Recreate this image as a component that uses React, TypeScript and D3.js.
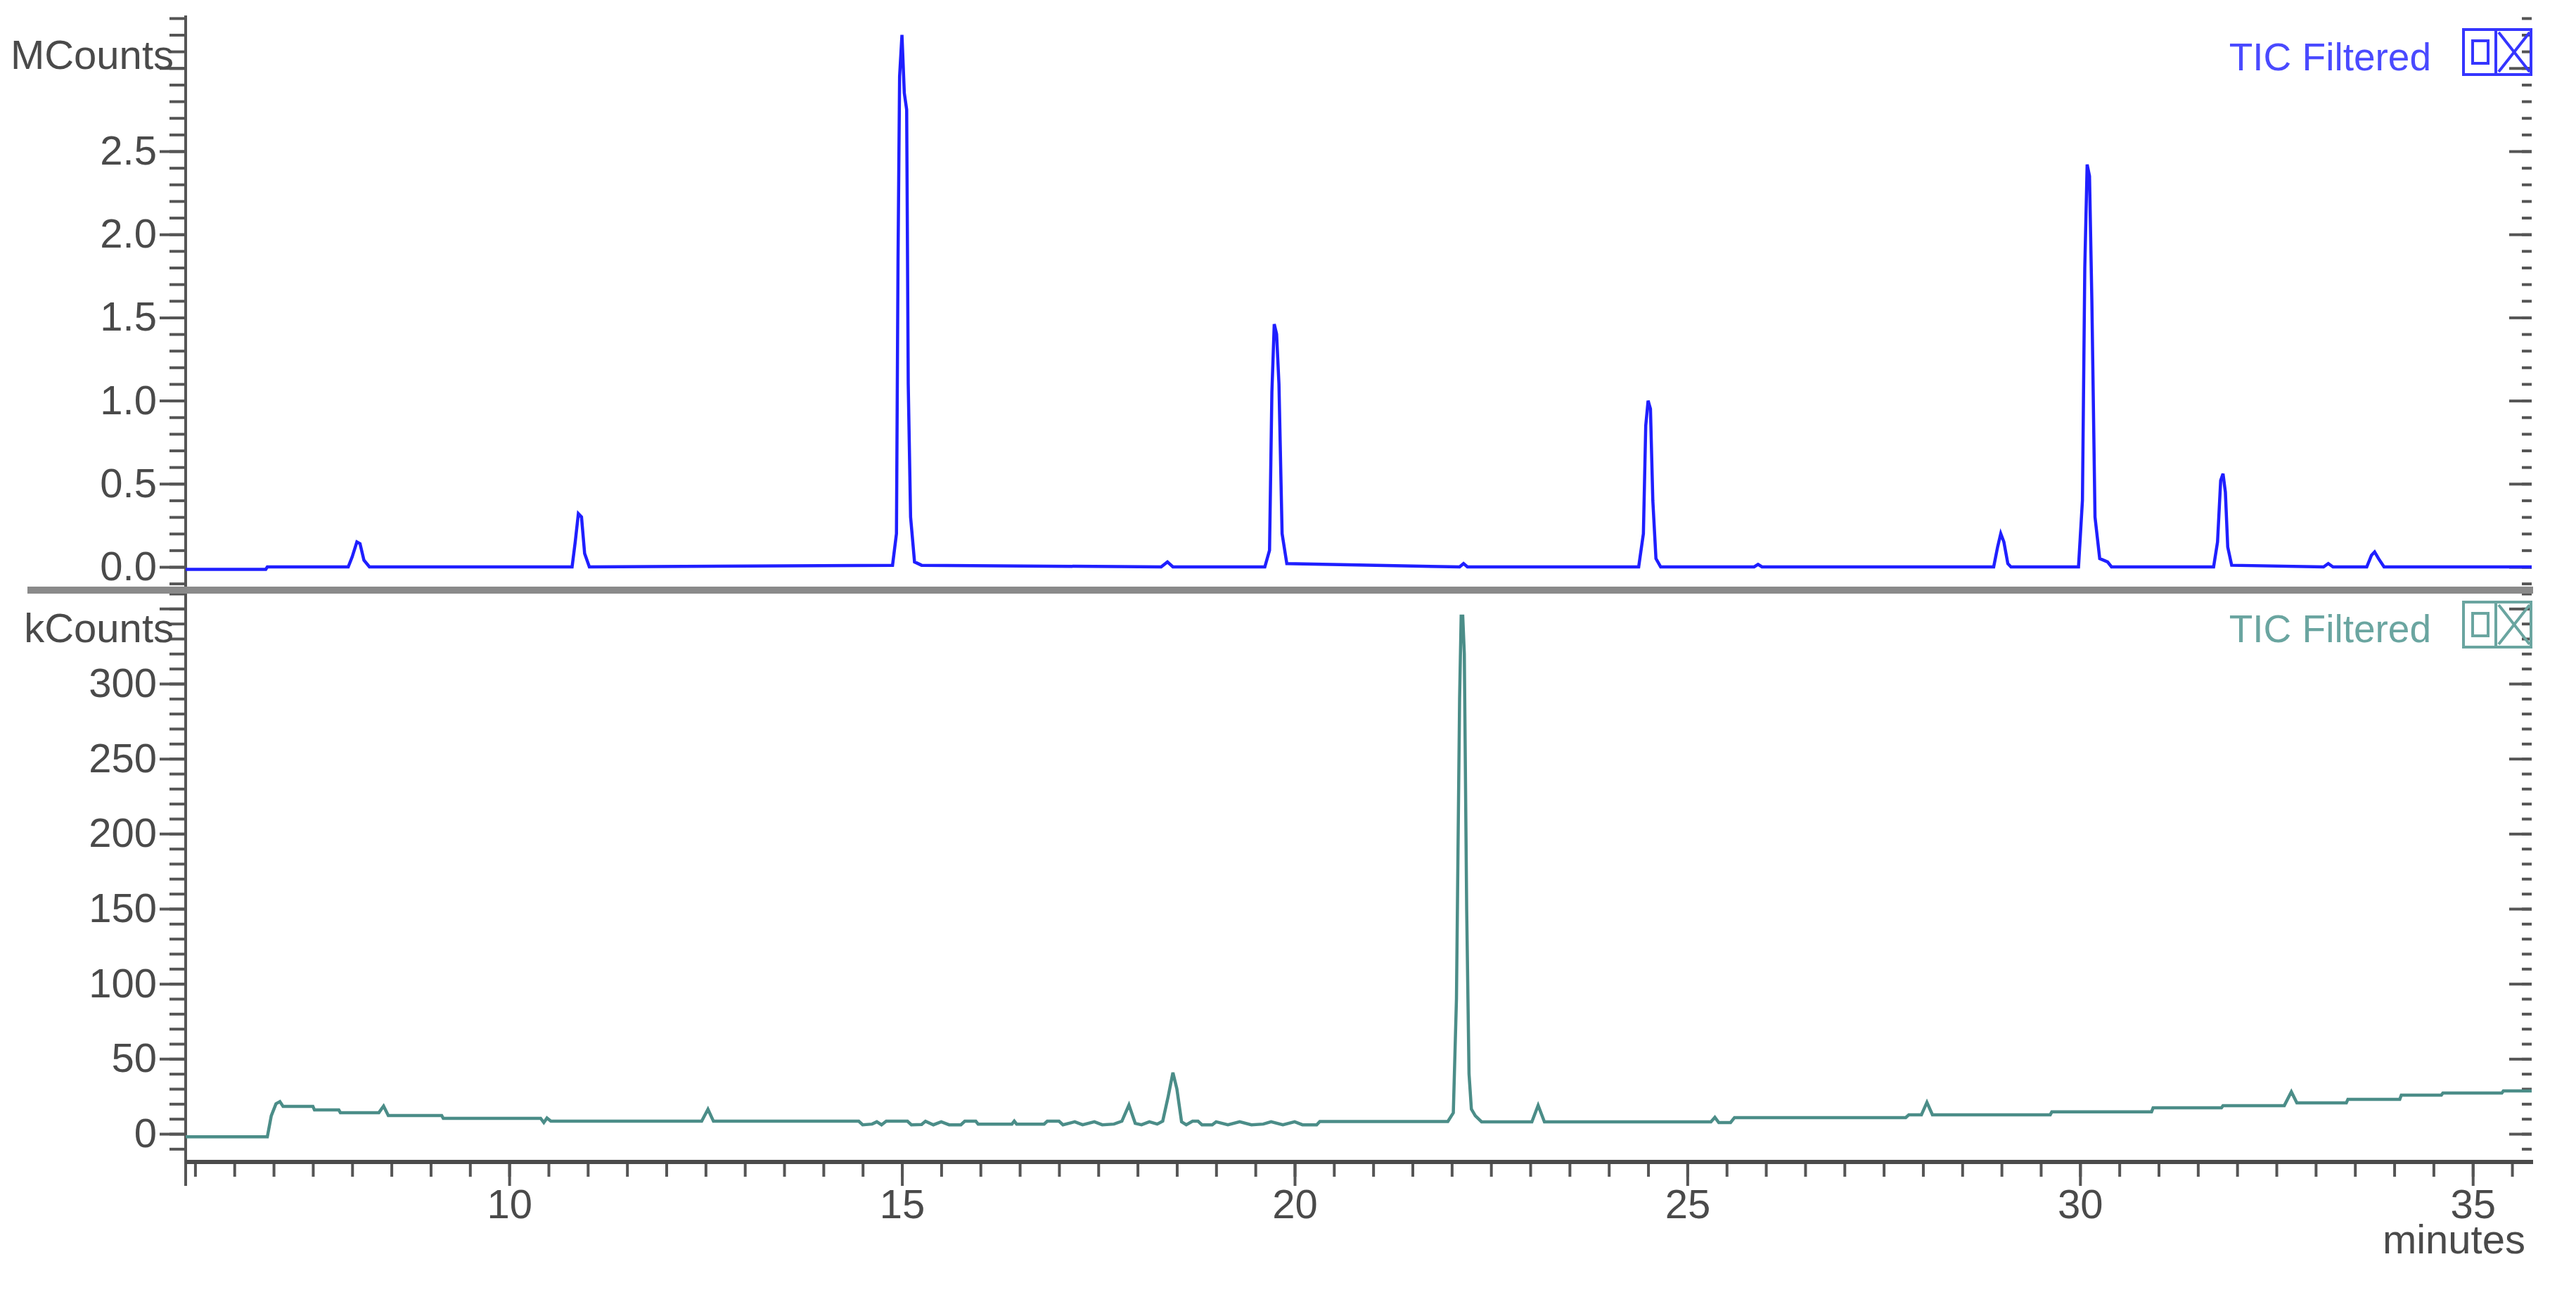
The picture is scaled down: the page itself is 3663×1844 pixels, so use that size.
import React, { useEffect, useRef } from "react";
import * as d3 from "d3";

// upper trace: [retention time (min), MCounts]
const topTrace: [number, number][] = [
  [5.88, -0.015], [6.9, -0.015], [6.92, 0], [7.95, 0],
  [8.0, 0.06], [8.06, 0.15], [8.1, 0.14], [8.15, 0.04], [8.22, 0],
  [10.8, 0], [10.84, 0.15], [10.88, 0.32], [10.92, 0.3], [10.96, 0.08], [11.02, 0],
  [14.88, 0.01], [14.93, 0.2], [14.95, 1.85], [14.97, 2.95], [15.0, 3.2], [15.03, 2.85],
  [15.06, 2.75], [15.08, 1.1], [15.11, 0.3], [15.16, 0.03], [15.25, 0.01],
  [18.3, 0], [18.38, 0.03], [18.45, 0],
  [19.62, 0], [19.68, 0.1], [19.71, 1.05], [19.74, 1.46], [19.77, 1.4], [19.8, 1.1],
  [19.84, 0.2], [19.9, 0.02],
  [22.1, 0], [22.15, 0.02], [22.2, 0],
  [24.38, 0], [24.44, 0.2], [24.47, 0.85], [24.5, 1.0], [24.53, 0.95], [24.56, 0.4],
  [24.6, 0.05], [24.66, 0],
  [25.85, 0], [25.9, 0.015], [25.95, 0],
  [28.9, 0], [28.95, 0.12], [28.99, 0.2], [29.03, 0.15], [29.08, 0.02], [29.12, 0],
  [29.98, 0], [30.03, 0.4], [30.06, 1.8], [30.09, 2.42], [30.12, 2.35], [30.15, 1.6],
  [30.19, 0.3], [30.25, 0.05], [30.35, 0.03], [30.4, 0],
  [31.7, 0], [31.75, 0.15], [31.79, 0.52], [31.82, 0.56], [31.85, 0.45], [31.88, 0.12],
  [31.93, 0.01],
  [33.1, 0], [33.16, 0.02], [33.22, 0],
  [33.65, 0], [33.71, 0.07], [33.75, 0.09], [33.8, 0.05], [33.87, 0], [35.75, 0],
];

// lower trace: [retention time (min), kCounts]
const bottomTrace: [number, number][] = [
  [5.88, -2], [6.92, -2], [6.97, 12], [7.03, 20], [7.08, 21.5], [7.12, 18.3],
  [7.5, 18.3], [7.52, 15.9], [7.83, 15.9], [7.85, 14.1], [8.34, 14.1], [8.4, 18.5],
  [8.46, 12.2], [9.14, 12.2], [9.16, 10.3], [10.4, 10.3], [10.44, 7.5], [10.48, 10.5],
  [10.53, 8.4], [12.45, 8.4], [12.53, 16.4], [12.6, 8.4],
  [14.45, 8.4], [14.5, 6], [14.62, 6.5], [14.68, 8], [14.74, 6], [14.8, 8.4],
  [15.07, 8.4], [15.12, 6], [15.25, 6.2], [15.3, 8.4], [15.4, 6], [15.5, 8], [15.6, 6],
  [15.75, 6], [15.8, 8.4], [15.94, 8.4], [15.97, 6.5], [16.4, 6.5], [16.43, 8.5],
  [16.46, 6.5], [16.81, 6.5], [16.85, 8.4], [17.0, 8.4], [17.05, 6], [17.2, 8],
  [17.3, 6], [17.45, 8], [17.55, 6], [17.7, 6.5], [17.8, 8.4], [17.89, 19.2],
  [17.97, 7], [18.05, 6], [18.15, 8], [18.25, 6.5], [18.32, 8.4], [18.39, 25],
  [18.45, 40.8], [18.5, 30], [18.56, 8], [18.62, 6], [18.7, 8.4], [18.77, 8.4],
  [18.82, 6], [18.95, 6], [19.0, 8], [19.15, 6], [19.3, 8], [19.45, 6], [19.6, 6.5],
  [19.7, 8], [19.85, 6], [20.0, 8], [20.1, 6], [20.28, 6], [20.32, 8.2],
  [21.95, 8.2], [22.02, 14], [22.06, 90], [22.1, 290], [22.12, 345], [22.14, 345],
  [22.16, 320], [22.19, 150], [22.22, 40], [22.25, 16.5], [22.3, 12], [22.38, 8],
  [23.02, 8], [23.1, 19], [23.18, 8], [25.3, 8], [25.35, 11], [25.4, 7.5],
  [25.55, 7.5], [25.6, 10.8], [27.78, 10.8], [27.82, 12.7], [27.98, 12.7], [28.05, 21],
  [28.12, 12.7], [29.62, 12.7], [29.64, 14.6], [30.91, 14.6], [30.93, 17.3],
  [31.8, 17.3], [31.82, 18.8], [32.6, 18.8], [32.69, 28], [32.76, 20.6], [33.39, 20.6],
  [33.41, 23], [34.07, 23], [34.09, 25.8], [34.6, 25.8], [34.62, 27.2], [35.37, 27.2],
  [35.39, 28.6], [35.75, 28.6],
];

const xMajorTicks = [10, 15, 20, 25, 30, 35];
const topMajorTicks = [0, 0.5, 1, 1.5, 2, 2.5, 3];
const topTickLabels = ["0.0", "0.5", "1.0", "1.5", "2.0", "2.5", ""];
const bottomMajorTicks = [0, 50, 100, 150, 200, 250, 300, 350];
const bottomTickLabels = ["0", "50", "100", "150", "200", "250", "300", ""];
const legendLabel = "TIC Filtered";
const topUnit = "MCounts";
const bottomUnit = "kCounts";
const xUnit = "minutes";

const FONT = "'Liberation Sans', Arial, sans-serif";
const AXIS = "#555";
const TEXT = "#4a4a4a";
const BLUE = "#1f1fff";
const TEAL = "#4b8d88";

export default function App() {
  const ref = useRef<SVGSVGElement>(null);

  useEffect(() => {
    drawChart();
  }, []);

  function drawChart() {
    const svg = d3.select(ref.current);
    svg.selectAll("*").remove();

    const left = 264;
    const right = 3600;
    const xAxisY = 1652;
    const divY = 839;

    const x = d3.scaleLinear().domain([5.88, 35.75]).range([left, right]);
    const yTop = d3.scaleLinear().domain([0, 2.5]).range([806, 215]);
    const yBot = d3.scaleLinear().domain([0, 300]).range([1612, 972]);

    // style helper for axis groups
    const styleAxis = (g, size = 58) => {
      g.select(".domain").remove();
      g.selectAll("line").attr("stroke", AXIS).attr("stroke-width", 4);
      g.selectAll("text")
        .attr("fill", TEXT)
        .attr("font-size", size)
        .attr("font-family", FONT);
    };

    const topMinor = d3.range(-1, 34).map((i) => i / 10);
    const botMinor = d3.range(-1, 37).map((i) => i * 10);
    const xMinor = d3.range(12, 72).map((i) => i / 2);

    // left axis: top panel
    svg.append("g")
      .attr("transform", `translate(${left},0)`)
      .call(d3.axisLeft(yTop).tickValues(topMinor).tickSize(23).tickFormat(() => ""))
      .call(styleAxis);
    svg.append("g")
      .attr("transform", `translate(${left},0)`)
      .call(
        d3.axisLeft(yTop)
          .tickValues(topMajorTicks)
          .tickSize(37)
          .tickPadding(4)
          .tickFormat((d, i) => topTickLabels[i])
      )
      .call(styleAxis);

    // left axis: bottom panel
    svg.append("g")
      .attr("transform", `translate(${left},0)`)
      .call(d3.axisLeft(yBot).tickValues(botMinor).tickSize(23).tickFormat(() => ""))
      .call(styleAxis);
    svg.append("g")
      .attr("transform", `translate(${left},0)`)
      .call(
        d3.axisLeft(yBot)
          .tickValues(bottomMajorTicks)
          .tickSize(37)
          .tickPadding(4)
          .tickFormat((d, i) => bottomTickLabels[i])
      )
      .call(styleAxis);

    // right side: ticks only, no axis line
    [
      [yTop, topMinor, 14],
      [yTop, topMajorTicks, 32],
      [yBot, botMinor, 14],
      [yBot, bottomMajorTicks, 32],
    ].forEach(([scale, vals, size]) => {
      svg.append("g")
        .attr("transform", `translate(${right},0)`)
        .call(d3.axisLeft(scale).tickValues(vals).tickSize(size).tickFormat(() => ""))
        .call(styleAxis);
    });

    // x axis
    svg.append("g")
      .attr("transform", `translate(0,${xAxisY})`)
      .call(d3.axisBottom(x).tickValues(xMinor).tickSize(21).tickFormat(() => ""))
      .call(styleAxis);
    svg.append("g")
      .attr("transform", `translate(0,${xAxisY})`)
      .call(d3.axisBottom(x).tickValues(xMajorTicks).tickSize(34).tickPadding(5))
      .call(styleAxis);

    // axis lines
    svg.append("line")
      .attr("x1", left).attr("x2", left)
      .attr("y1", 22).attr("y2", 1686)
      .attr("stroke", AXIS).attr("stroke-width", 4);
    svg.append("line")
      .attr("x1", left).attr("x2", right + 2)
      .attr("y1", xAxisY).attr("y2", xAxisY)
      .attr("stroke", "#4a4a4a").attr("stroke-width", 6);

    // traces
    svg.append("path")
      .datum(topTrace)
      .attr("fill", "none")
      .attr("stroke", BLUE)
      .attr("stroke-width", 4.5)
      .attr("stroke-linejoin", "miter")
      .attr("d", d3.line().x((d) => x(d[0])).y((d) => yTop(d[1])));

    svg.append("path")
      .datum(bottomTrace)
      .attr("fill", "none")
      .attr("stroke", TEAL)
      .attr("stroke-width", 4.5)
      .attr("d", d3.line().x((d) => x(d[0])).y((d) => yBot(d[1])));

    // panel divider
    svg.append("line")
      .attr("x1", 39).attr("x2", right + 2)
      .attr("y1", divY).attr("y2", divY)
      .attr("stroke", "#8a8a8a").attr("stroke-width", 10);

    // unit labels
    svg.append("text")
      .attr("x", 247).attr("y", 98)
      .attr("text-anchor", "end")
      .attr("font-family", FONT).attr("font-size", 58).attr("fill", TEXT)
      .text(topUnit);
    svg.append("text")
      .attr("x", 247).attr("y", 913)
      .attr("text-anchor", "end")
      .attr("font-family", FONT).attr("font-size", 58).attr("fill", TEXT)
      .text(bottomUnit);
    svg.append("text")
      .attr("x", 3591).attr("y", 1782)
      .attr("text-anchor", "end")
      .attr("font-family", FONT).attr("font-size", 58).attr("fill", TEXT)
      .text(xUnit);

    // legends with window-style icon
    const legend = (baseY, boxY, color, textColor) => {
      svg.append("text")
        .attr("x", 3457).attr("y", baseY)
        .attr("text-anchor", "end")
        .attr("font-family", FONT).attr("font-size", 55).attr("fill", textColor)
        .text(legendLabel);
      const g = svg.append("g")
        .attr("fill", "none")
        .attr("stroke", color)
        .attr("stroke-width", 4);
      g.append("rect").attr("x", 3503).attr("y", boxY).attr("width", 96).attr("height", 64);
      g.append("line").attr("x1", 3549).attr("x2", 3549).attr("y1", boxY).attr("y2", boxY + 64);
      g.append("rect").attr("x", 3516).attr("y", boxY + 16).attr("width", 22).attr("height", 32);
      g.append("line").attr("x1", 3553).attr("x2", 3597).attr("y1", boxY + 4).attr("y2", boxY + 60);
      g.append("line").attr("x1", 3597).attr("x2", 3553).attr("y1", boxY + 4).attr("y2", boxY + 60);
    };
    legend(100, 42, "#3535ff", "#4a4aff");
    legend(913, 856, "#6aa5a0", "#6aa5a0");
  }

  return (
    <svg
      ref={ref}
      width={3663}
      height={1844}
      style={{ position: "absolute", left: 0, top: 0, background: "#fff" }}
    />
  );
}
